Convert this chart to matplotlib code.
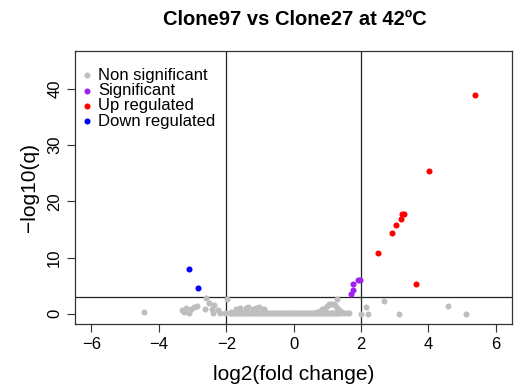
import matplotlib
matplotlib.use("Agg")
import matplotlib.pyplot as plt

plt.rcParams['font.family'] = ['Liberation Sans', 'DejaVu Sans']
plt.rcParams['axes.unicode_minus'] = True

# Non-significant genes outside the dense core (log2 fold change, -log10 q)
grey_x = [-4.45, -3.31, -3.24, -3.21, -3.11, -3.04, -2.96, -2.86, -2.62, -2.60,
          -2.50, -2.42, -2.40, -2.35, -2.25, -2.18, -2.05, -1.99, -1.85, -1.70,
          -1.60, -1.41, -1.36, -1.21, -1.11, -1.02, -0.92, -0.87,
          -1.75, -1.45, -1.15, -0.85,
          0.70, 0.78, 0.85, 0.92, 0.98, 1.05, 1.10, 1.16, 1.22, 1.28, 1.30, 1.35,
          1.42, 1.50, 1.58, 1.65, 2.01, 2.16, 2.22, 2.67, 3.13, 4.58, 5.10]
grey_y = [0.25, 0.70, 0.40, 1.00, 0.23, 0.88, 1.18, 1.40, 0.88, 2.90,
          2.00, 0.90, 0.10, 1.60, 0.70, 0.20, 0.10, 2.70, 0.40, 0.80,
          1.10, 1.10, 1.30, 0.80, 1.00, 1.30, 0.80, 0.90,
          0.35, 0.30, 0.35, 0.30,
          0.30, 0.50, 0.80, 1.10, 1.40, 1.70, 1.80, 1.80, 1.50, 1.10, 2.70, 0.70,
          0.40, 0.10, 0.10, 0.10, 0.05, 1.24, 0.05, 2.35, 0.05, 1.36, 0.05]

# Dense core of non-significant genes sitting just above q = 1
core_x = [-1.90, -1.85, -1.80, -1.75, -1.70, -1.65, -1.60, -1.55, -1.50, -1.45,
          -1.40, -1.35, -1.30, -1.25, -1.20, -1.15, -1.10, -1.05, -1.00, -0.95,
          -0.90, -0.85, -0.80, -0.75, -0.70, -0.65, -0.60, -0.55, -0.50, -0.45,
          -0.40, -0.35, -0.30, -0.25, -0.20, -0.15, -0.10, -0.05, 0.00, 0.05,
          0.10, 0.15, 0.20, 0.25, 0.30, 0.35, 0.40, 0.45, 0.50, 0.55,
          0.60, 0.65, 0.70, 0.75, 0.80, 0.85, 0.90, 0.95, 1.00, 1.05,
          1.10, 1.15, 1.20, 1.25, 1.30, 1.35, 1.40]
core_y = [0.10, 0.15, 0.10, 0.20, 0.10, 0.15, 0.10, 0.20, 0.10, 0.15,
          0.10, 0.20, 0.10, 0.15, 0.10, 0.20, 0.10, 0.15, 0.10, 0.20,
          0.10, 0.15, 0.10, 0.20, 0.10, 0.15, 0.10, 0.20, 0.10, 0.15,
          0.10, 0.20, 0.10, 0.15, 0.10, 0.20, 0.10, 0.15, 0.10, 0.20,
          0.10, 0.15, 0.10, 0.20, 0.10, 0.15, 0.10, 0.20, 0.10, 0.15,
          0.10, 0.20, 0.10, 0.15, 0.10, 0.20, 0.10, 0.15, 0.10, 0.20,
          0.10, 0.15, 0.10, 0.20, 0.10, 0.15, 0.10]

sig_x = [1.92, 1.96, 1.77, 1.77, 1.71]
sig_y = [6.00, 5.95, 5.25, 4.19, 3.60]

up_x = [5.39, 4.02, 3.27, 3.21, 3.20, 3.03, 2.91, 2.51, 3.64]
up_y = [38.9, 25.4, 17.7, 17.7, 16.9, 15.8, 14.4, 10.85, 5.25]

down_x = [-3.12, -2.84]
down_y = [8.0, 4.6]

fc_cut = 2
q_cut = 3

legend_labels = ["Non significant", "Significant", "Up regulated", "Down regulated"]
colors = ["#BEBEBE", "#A020F0", "#FF0000", "#0000FF"]

fig = plt.figure(figsize=(5.26, 3.91), dpi=100)
ax = fig.add_axes([0.1432, 0.1714, 0.8302, 0.6989])

ms = 19
groups = [(grey_x + core_x, grey_y + core_y, colors[0]),
          (sig_x, sig_y, colors[1]),
          (up_x, up_y, colors[2]),
          (down_x, down_y, colors[3])]
for xs, ys, c in groups:
    ax.scatter(xs, ys, s=ms, color=c, linewidths=0, zorder=3)

ax.axvline(-fc_cut, color="#222222", lw=0.9, zorder=2)
ax.axvline(fc_cut, color="#222222", lw=0.9, zorder=2)
ax.axhline(q_cut, color="#222222", lw=0.9, zorder=2)

ax.set_xlim(-6.48, 6.48)
ax.set_ylim(-1.8, 46.8)
ax.set_xticks([-6, -4, -2, 0, 2, 4, 6])
ax.set_yticks([0, 10, 20, 30, 40])
ax.tick_params(direction='out', length=5.5, width=0.8, labelsize=12, color="#333333")
ax.tick_params(axis='x', pad=4)
ax.tick_params(axis='y', pad=4)
for lab in ax.get_yticklabels():
    lab.set_rotation(90)
    lab.set_va('center')
for s in ax.spines.values():
    s.set_linewidth(0.9)
    s.set_color("#333333")

ax.set_xlabel("log2(fold change)", fontsize=15, labelpad=9)
ax.set_ylabel("\u2212log10(q)", fontsize=15, labelpad=6)
fig.text(0.56, 0.950, "Clone97 vs Clone27 at 42ºC", fontsize=14.5,
         fontweight='bold', ha='center', va='center')

# Legend: marker column and text column in axes coordinates
leg_rows = [0.911, 0.853, 0.799, 0.742]
for lab, c, yy in zip(legend_labels, colors, leg_rows):
    ax.scatter([0.026], [yy], s=ms, color=c, linewidths=0,
               transform=ax.transAxes, zorder=4, clip_on=False)
    ax.text(0.052, yy, lab, fontsize=12, va='center', ha='left',
            transform=ax.transAxes)

fig.savefig("out.png", dpi=100)
